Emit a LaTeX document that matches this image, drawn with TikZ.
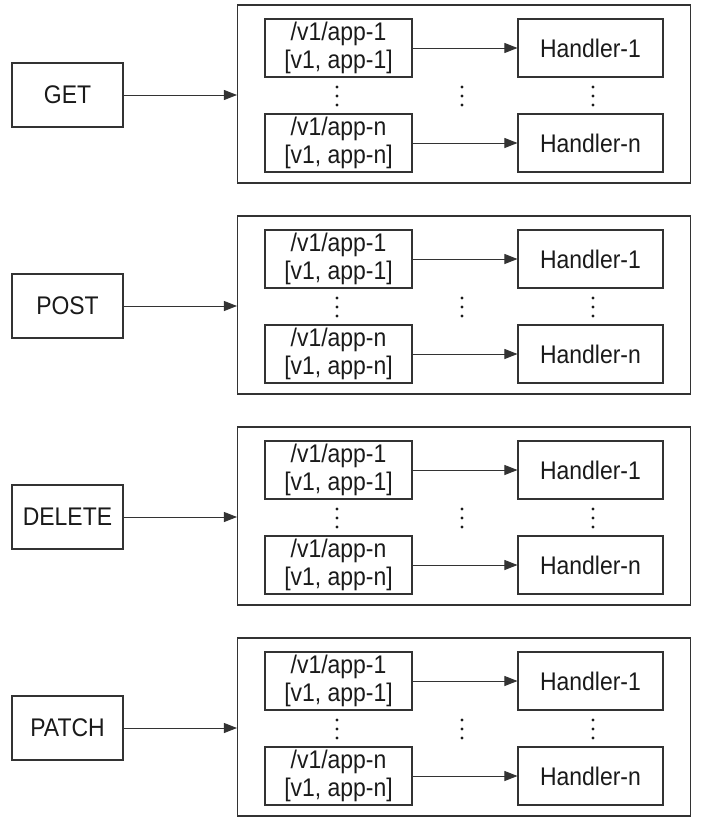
\documentclass[tikz,border=0pt]{standalone}
\usepackage{fontspec}
\setmainfont{Liberation Sans}[FakeStretch=0.9]
\usetikzlibrary{arrows.meta}
\definecolor{linec}{HTML}{333333}
\definecolor{textc}{HTML}{1A1A1A}
\begin{document}
\begin{tikzpicture}[x=1pt,y=-1pt,
  box/.style={draw=linec, line width=1.1pt, inner sep=0pt, align=center, text=textc, font=\fontsize{25.5}{28.5}\selectfont},
  method/.style={box, minimum width=111pt, minimum height=64pt},
  outerbox/.style={draw=linec, line width=1.1pt, minimum width=453pt, minimum height=178pt, inner sep=0pt},
  route/.style={box, minimum width=147pt, minimum height=58pt},
  handler/.style={box, minimum width=145pt, minimum height=58pt},
  conn/.style={draw=linec, line width=0.85pt, -{Triangle[length=13pt,width=10pt]}},
  dotc/.style={fill=textc, circle, inner sep=0pt, minimum size=3.4pt}
]
\useasboundingbox (0,0) rectangle (703,822);
\foreach \i/\lab [count=\k from 0] in {1/GET,2/POST,3/DELETE,4/PATCH}{
  \pgfmathsetmacro{\T}{5+211*\k}
  \node[outerbox] (o\i) at (464,{\T+89}) {};
  \node[method] (m\i) at (67.5,{\T+90}) {\lab};
  \node[route] (ra\i) at (338.5,{\T+43}) {/v1/app-1\\{}[v1, app-1]};
  \node[handler] (ha\i) at (590.5,{\T+43}) {Handler-1};
  \node[route] (rb\i) at (338.5,{\T+138}) {/v1/app-n\\{}[v1, app-n]};
  \node[handler] (hb\i) at (590.5,{\T+138}) {Handler-n};
  \draw[conn] (m\i.east) -- (m\i.east -| o\i.west);
  \draw[conn] (ra\i) -- (ha\i);
  \draw[conn] (rb\i) -- (hb\i);
  \foreach \dx in {337,462,593}{
    \foreach \dy in {82,91,100}{
      \node[dotc] at (\dx,{\T+\dy}) {};
    }
  }
}
\end{tikzpicture}
\end{document}
